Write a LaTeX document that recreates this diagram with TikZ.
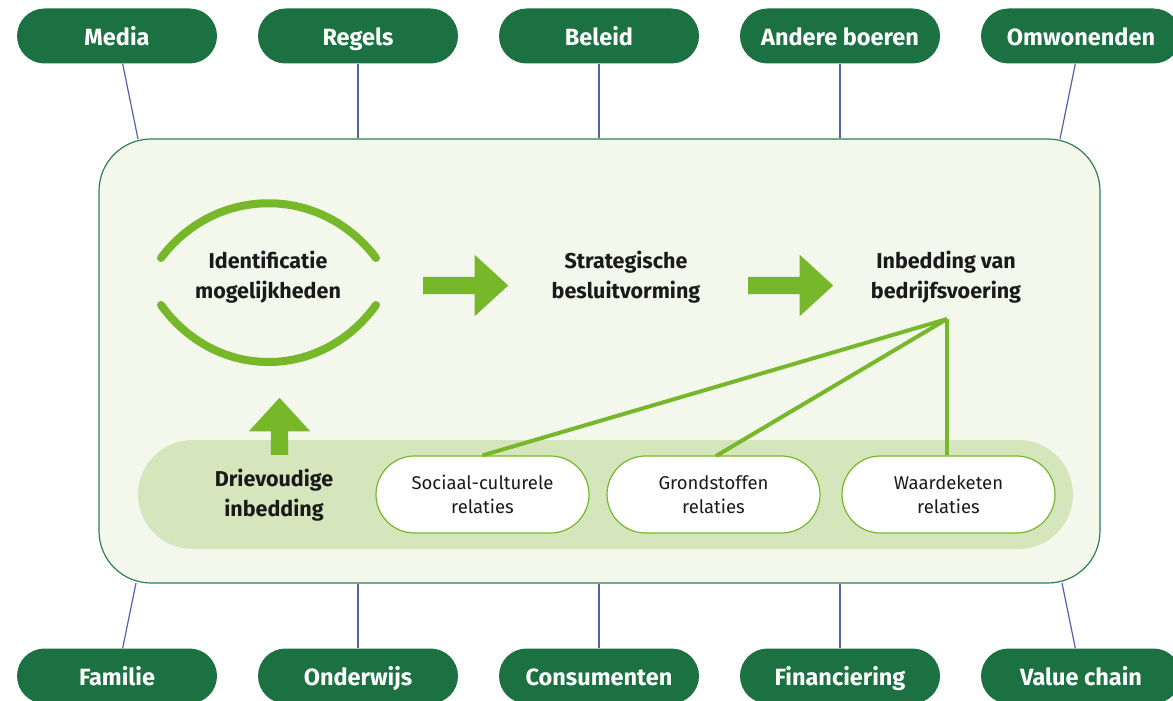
\documentclass[tikz,border=0pt]{standalone}
\usepackage{fontspec}
\setmainfont{Fira Sans}
\usetikzlibrary{shapes.arrows}

\definecolor{darkgreen}{HTML}{1B7142}
\definecolor{boxgreen}{HTML}{F3F7EC}
\definecolor{boxline}{HTML}{2F7F52}
\definecolor{bandgreen}{HTML}{D5E6BD}
\definecolor{brightgreen}{HTML}{77B82B}
\definecolor{linkblue}{HTML}{5262A8}
\definecolor{inkblack}{HTML}{1A1A1A}

\tikzset{
  topic/.style={fill=darkgreen, rounded corners=27.5pt, minimum width=200pt,
    minimum height=55pt, text=white, text height=19.5pt, text depth=0pt,
    font=\fontsize{23.5}{27}\selectfont\bfseries},
  mainbox/.style={fill=boxgreen, draw=boxline, line width=1.2pt, rounded corners=52pt,
    minimum width=1001pt, minimum height=444pt},
  band/.style={fill=bandgreen, rounded corners=54.5pt, minimum width=935pt, minimum height=109pt},
  stagetext/.style={align=center, text=inkblack, font=\fontsize{21.5}{30}\selectfont\bfseries},
  relation/.style={fill=white, draw=brightgreen, line width=1.2pt, rounded corners=38.5pt,
    minimum width=213pt, minimum height=77pt, align=center, text=inkblack,
    font=\fontsize{18.5}{24.5}\selectfont},
  bigarrow/.style={single arrow, fill=brightgreen, inner xsep=0pt, inner ysep=8.5pt,
    single arrow head extend=22pt, single arrow tip angle=85, minimum width=61pt,
    anchor=tail},
  eyearc/.style={draw=brightgreen, line width=8pt, line cap=round}
}

\begin{document}
\begin{tikzpicture}[x=1pt,y=-1pt]
  \useasboundingbox (0,0) rectangle (1173,701);

  \node[mainbox] (box) at (599.5,361) {};
  \node[band] (band) at (605.5,494.5) {};

  % the ten parties around the farm
  \begin{scope}[every node/.style={topic}]
    \node (media)   at (117,36)  {Media};
    \node (regels)  at (358,36)  {Regels};
    \node (beleid)  at (599,36)  {Beleid};
    \node (boeren)  at (840,36)  {Andere boeren};
    \node (omwon)   at (1081,36) {Omwonenden};
    \node (familie) at (117,676) {Familie};
    \node (onderw)  at (358,676) {Onderwijs};
    \node (consum)  at (599,676) {Consumenten};
    \node (financ)  at (840,676) {Financiering};
    \node (chain)   at (1081,676) {Value chain};
  \end{scope}

  \coordinate (mediaend)   at (138,139);
  \coordinate (omwonend)   at (1060,139);
  \coordinate (familieend) at (136,583);
  \coordinate (chainend)   at (1062,583);

  \begin{scope}[every edge/.style={draw=linkblue, line width=1.2pt}]
    \path (media)   edge (mediaend);
    \path (regels)  edge (regels |- box.north);
    \path (beleid)  edge (beleid |- box.north);
    \path (boeren)  edge (boeren |- box.north);
    \path (omwon)   edge (omwonend);
    \path (familie) edge (familieend);
    \path (onderw)  edge (onderw |- box.south);
    \path (consum)  edge (consum |- box.south);
    \path (financ)  edge (financ |- box.south);
    \path (chain)   edge (chainend);
  \end{scope}

  % the three steps
  \begin{scope}[every node/.style={stagetext}]
    \node (ident) at (268,277) {Identificatie\\mogelijkheden};
    \node (strat) at (626,277) {Strategische\\besluitvorming};
    \node (inbed) at (946,277) {Inbedding van\\bedrijfsvoering};
    \node (drie)  at (274,495) {Drievoudige\\inbedding};
  \end{scope}

  \draw[eyearc] (161,258) .. controls (216,185) and (321,185) .. (376,258);
  \draw[eyearc] (161,305) .. controls (216,381) and (321,381) .. (376,305);

  \node[bigarrow, minimum height=85pt] (arr1) at (423,285.5) {};
  \node[bigarrow, minimum height=85pt] (arr2) at (748,285.5) {};
  \node[bigarrow, minimum height=57pt, rotate=90] (arr3) at (279.5,455) {};

  % relations
  \begin{scope}[every node/.style={relation}]
    \node (soc)    at (482.5,494.5) {Sociaal-culturele\\relaties};
    \node (grond)  at (713.5,494.5) {Grondstoffen\\relaties};
    \node (waarde) at (948.5,494.5) {Waardeketen\\relaties};
  \end{scope}

  \coordinate (hub) at (947,319);
  \begin{scope}[every edge/.style={draw=brightgreen, line width=4pt}]
    \path (hub) edge (soc.north);
    \path (hub) edge (716,456);
    \path (hub) edge (hub |- waarde.north);
  \end{scope}

\end{tikzpicture}
\end{document}
